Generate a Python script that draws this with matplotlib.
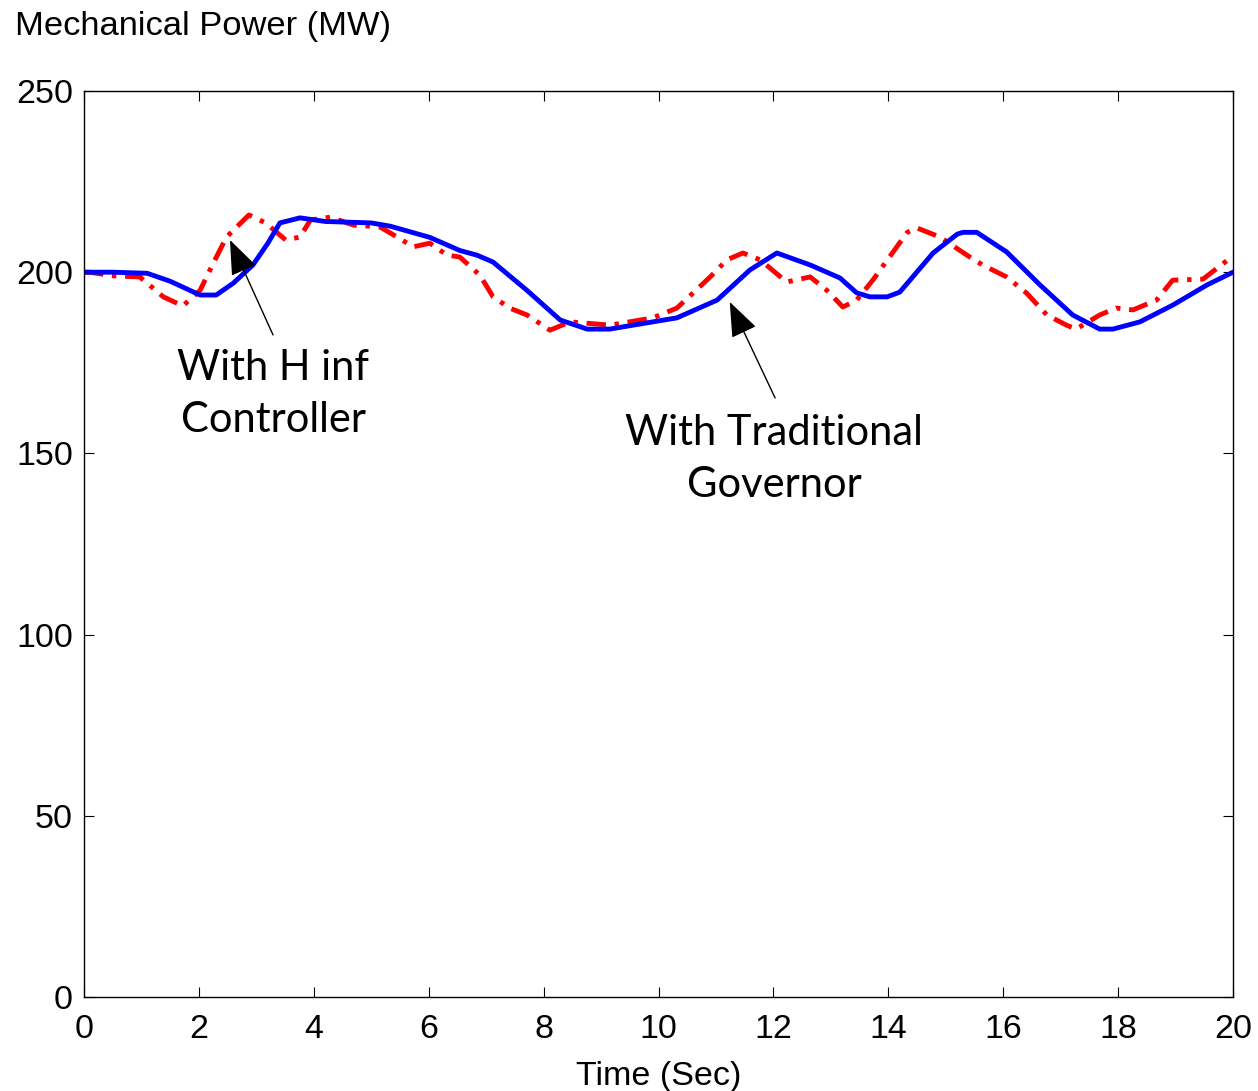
import matplotlib
matplotlib.use("Agg")
import matplotlib.pyplot as plt

# blue: with H inf controller
t_hinf = [0, 0.5, 1.1, 1.5, 2.02, 2.3, 2.6, 2.94, 3.2, 3.41, 3.76, 4.2, 5.0, 5.33,
          6.02, 6.54, 6.84, 7.12, 7.71, 8.29, 8.76, 9.15, 9.56, 10.32, 11.02, 11.59,
          12.06, 12.64, 13.16, 13.45, 13.68, 13.98, 14.2, 14.78, 15.2, 15.3, 15.54,
          16.06, 16.64, 17.21, 17.68, 17.91, 18.38, 18.95, 19.55, 20]
p_hinf = [200, 200, 199.7, 197.5, 193.7, 193.7, 197, 202, 208, 213.6, 215, 214, 213.6, 212.7,
          209.6, 206, 204.7, 202.8, 195, 186.8, 184.3, 184.3, 185.4, 187.4, 192.3, 200.6,
          205.3, 202, 198.4, 194.3, 193.2, 193.2, 194.5, 205.3, 210.5, 211, 211,
          205.6, 196.5, 188.2, 184.3, 184.3, 186.3, 190.9, 196.5, 200]

# red dash-dot: with traditional governor
t_gov = [0, 0.1, 0.5, 0.97, 1.38, 1.72, 2.02, 2.25, 2.48, 2.87, 3.16, 3.51, 3.76, 3.94,
         4.29, 4.69, 5.15, 5.45, 5.73, 6.02, 6.32, 6.54, 6.89, 7.12, 7.41, 7.71, 8.11,
         8.46, 9.16, 9.9, 10.32, 10.9, 11.19, 11.47, 11.77, 12.23, 12.64, 12.93, 13.21,
         13.45, 13.73, 14.33, 14.5, 14.9, 15.37, 15.64, 16.06, 16.41, 16.76, 17.1, 17.27,
         17.68, 17.97, 18.26, 18.67, 18.95, 19.48, 20]
p_gov = [200, 200, 199, 198.7, 193.2, 190.7, 195, 202.5, 209.7, 215.8, 213.6, 208.9, 209.7, 214.4,
         215.2, 213, 212.5, 209.7, 207, 208, 204.7, 204.2, 199.2, 193.2, 190.1, 188.2, 184,
         186.3, 185.4, 187.4, 190.1, 198.7, 203.4, 205.3, 203.4, 197.3, 198.7, 195, 190.4,
         192.3, 197.8, 211, 212.2, 209.7, 204.7, 202, 198.7, 194.2, 188.2, 185.4, 184.3,
         188.2, 190.1, 189.6, 192.3, 197.8, 198.1, 204.5]

xticks = list(range(0, 21, 2))
yticks = [0, 50, 100, 150, 200, 250]

plt.rcParams['font.family'] = ['Liberation Sans', 'DejaVu Sans']
fig = plt.figure(figsize=(12.58, 10.91), dpi=100)
ax = fig.add_axes([0.0668, 0.0861, 0.9133, 0.8305])

ax.plot(t_gov, p_gov, color="#ff0000", lw=3.5, dashes=(4, 1.8, 0.9, 1.8))
ax.plot(t_hinf, p_hinf, color="#0000ff", lw=3.5)

ax.set_xlim(0, 20)
ax.set_ylim(0, 250)
ax.set_xticks(xticks)
ax.set_yticks(yticks)
ax.tick_params(axis="both", direction="in", length=7, width=0.8, top=True, right=True,
               labelsize=24.5)
ax.tick_params(axis="x", pad=12)
ax.tick_params(axis="y", pad=8)
for s in ax.spines.values():
    s.set_linewidth(1.0)

ax.set_xlabel("Time (Sec)", fontsize=24.5, labelpad=12)
fig.text(0.012, 1 - 26 / 1091, "Mechanical Power (MW)", fontsize=24.8, va="center", ha="left")

arrow = dict(arrowstyle="-|>,head_length=2.2,head_width=0.85", color="black", lw=1,
             shrinkA=0, shrinkB=0)
ax.annotate("", xy=(2.54, 208.9), xytext=(3.29, 182.7), arrowprops=arrow)
ax.annotate("", xy=(11.24, 191.8), xytext=(12.03, 165.3), arrowprops=arrow)
ax.text(3.29, 166.5, "With H inf\nController", fontsize=30, family="Lato",
        ha="center", va="center", linespacing=1.45)
ax.text(12.01, 148.5, "With Traditional\nGovernor", fontsize=30, family="Lato",
        ha="center", va="center", linespacing=1.45)

fig.savefig("out.png", dpi=100)
